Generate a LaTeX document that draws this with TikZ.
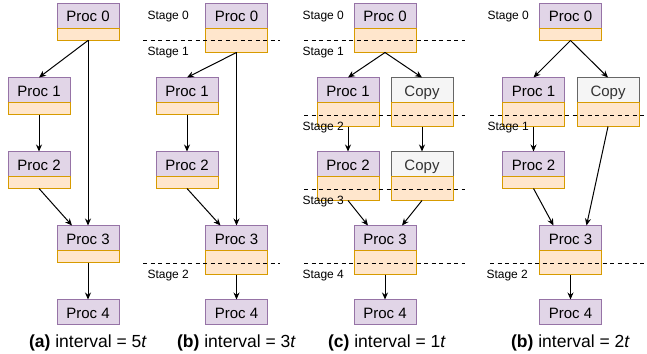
\documentclass[tikz,border=0pt]{standalone}
\usepackage{fontspec}
\setmainfont{Liberation Sans}
\usetikzlibrary{arrows.meta,positioning}
\definecolor{procfill}{HTML}{E1D5E7}
\definecolor{procline}{HTML}{9673A6}
\definecolor{buffill}{HTML}{FFE6CC}
\definecolor{bufline}{HTML}{D79B00}
\definecolor{copyfill}{HTML}{F5F5F5}
\definecolor{copyline}{HTML}{666666}
\definecolor{copytext}{HTML}{333333}
\tikzset{>={Stealth[length=7pt,width=6pt]}}
\tikzset{
  proc/.style={draw=procline,fill=procfill,minimum width=62pt,minimum height=25pt,inner sep=0pt,outer sep=0pt,text height=12pt,text depth=0pt,font=\fontsize{15}{18}\selectfont},
  copybox/.style={proc,draw=copyline,fill=copyfill,text=copytext},
  buf/.style={draw=bufline,fill=buffill,minimum width=62pt,minimum height=12pt,inner sep=0pt,outer sep=0pt,below=0pt of #1},
  bufx/.style={buf=#1,minimum height=24pt},
  stage/.style={anchor=west,inner sep=0pt,font=\fontsize{12}{14}\selectfont},
  stageline/.style={dash pattern=on 4pt off 3.5pt},
  caption/.style={inner sep=0pt,font=\fontsize{17.5}{20}\selectfont}
}

\begin{document}
\begin{tikzpicture}[x=1pt,y=-1pt,line width=1pt]
\useasboundingbox (0,0) rectangle (647,353);

\node[proc] (A0) at (88,16) {Proc 0};
\node[buf=A0] (A0s) {};
\node[proc] (A1) at (39,90) {Proc 1};
\node[buf=A1] (A1s) {};
\node[proc] (A2) at (39,164) {Proc 2};
\node[buf=A2] (A2s) {};
\node[proc] (A3) at (88,238) {Proc 3};
\node[buf=A3] (A3s) {};
\node[proc] (A4) at (88,312) {Proc 4};
\draw[->] (A0s.south) -- (A1.north);
\draw[->] (A0s.south) -- (A3.north);
\draw[->] (A1s.south) -- (A2.north);
\draw[->] (A2s.south) -- ([xshift=-16pt]A3.north);
\draw[->] (A3s.south) -- (A4.north);
\node[caption] (capA) at (88,343) {\textbf{(a)} interval = 5\textit{t}};

\node[proc] (B0) at (236.5,16) {Proc 0};
\node[bufx=B0] (B0s) {};
\node[proc] (B1) at (187,90) {Proc 1};
\node[buf=B1] (B1s) {};
\node[proc] (B2) at (187,164) {Proc 2};
\node[buf=B2] (B2s) {};
\node[proc] (B3) at (236.5,238) {Proc 3};
\node[bufx=B3] (B3s) {};
\node[proc] (B4) at (236.5,312) {Proc 4};
\draw[->] (B0s.south) -- (B1.north);
\draw[->] (B0s.south) -- (B3.north);
\draw[->] (B1s.south) -- (B2.north);
\draw[->] (B2s.south) -- ([xshift=-16pt]B3.north);
\draw[->] (B3s.south) -- (B4.north);
\draw[stageline] (143,41) -- (280,41);
\draw[stageline] (143,263) -- (280,263);
\node[stage] (sB0) at (147,17) {Stage 0};
\node[stage] (sB1) at (147,53) {Stage 1};
\node[stage] (sB2) at (147,276) {Stage 2};
\node[caption] (capB) at (236.5,343) {\textbf{(b)} interval = 3\textit{t}};

\node[proc] (C0) at (385,16) {Proc 0};
\node[bufx=C0] (C0s) {};
\node[proc] (C1) at (348,90) {Proc 1};
\node[bufx=C1] (C1s) {};
\node[copybox] (CC1) at (422,90) {Copy};
\node[bufx=CC1] (CC1s) {};
\node[proc] (C2) at (348,164) {Proc 2};
\node[bufx=C2] (C2s) {};
\node[copybox] (CC2) at (422,164) {Copy};
\node[bufx=CC2] (CC2s) {};
\node[proc] (C3) at (385,238) {Proc 3};
\node[bufx=C3] (C3s) {};
\node[proc] (C4) at (385,312) {Proc 4};
\draw[->] (C0s.south) -- (C1.north);
\draw[->] (C0s.south) -- (CC1.north);
\draw[->] (C1s.south) -- (C2.north);
\draw[->] (CC1s.south) -- (CC2.north);
\draw[->] (C2s.south) -- ([xshift=-17pt]C3.north);
\draw[->] (CC2s.south) -- ([xshift=17pt]C3.north);
\draw[->] (C3s.south) -- (C4.north);
\draw[stageline] (304,41) -- (465,41);
\draw[stageline] (304,115) -- (465,115);
\draw[stageline] (304,189) -- (465,189);
\draw[stageline] (304,263) -- (465,263);
\node[stage] (sC0) at (302,17) {Stage 0};
\node[stage] (sC1) at (302,53) {Stage 1};
\node[stage] (sC2) at (302,128) {Stage 2};
\node[stage] (sC3) at (302,202) {Stage 3};
\node[stage] (sC4) at (302,276) {Stage 4};
\node[caption] (capC) at (387,343) {\textbf{(c)} interval = 1\textit{t}};

\node[proc] (D0) at (570.5,16) {Proc 0};
\node[buf=D0] (D0s) {};
\node[proc] (D1) at (533.5,90) {Proc 1};
\node[bufx=D1] (D1s) {};
\node[copybox] (DC1) at (608,90) {Copy};
\node[bufx=DC1] (DC1s) {};
\node[proc] (D2) at (533.5,164) {Proc 2};
\node[buf=D2] (D2s) {};
\node[proc] (D3) at (570.5,238) {Proc 3};
\node[bufx=D3] (D3s) {};
\node[proc] (D4) at (570.5,312) {Proc 4};
\draw[->] (D0s.south) -- (D1.north);
\draw[->] (D0s.south) -- (DC1.north);
\draw[->] (D1s.south) -- (D2.north);
\draw[->] (D2s.south) -- ([xshift=-17pt]D3.north);
\draw[->] (DC1s.south) -- ([xshift=16pt]D3.north);
\draw[->] (D3s.south) -- (D4.north);
\draw[stageline] (490,115) -- (647,115);
\draw[stageline] (490,263) -- (647,263);
\node[stage] (sD0) at (487,17) {Stage 0};
\node[stage] (sD1) at (487,128) {Stage 1};
\node[stage] (sD2) at (486,276) {Stage 2};
\node[caption] (capD) at (570.5,343) {\textbf{(b)} interval = 2\textit{t}};
\end{tikzpicture}
\end{document}
